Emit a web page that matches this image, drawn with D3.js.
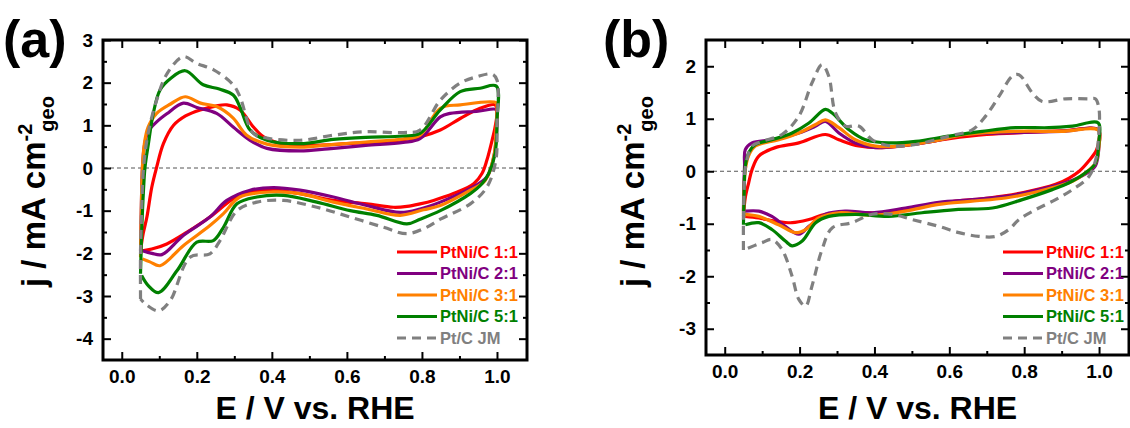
<!DOCTYPE html>
<html>
<head>
<meta charset="utf-8">
<script src="https://d3js.org/d3.v7.min.js"></script>
<style>
  body { margin: 0; background: #fff; }
  svg { display: block; font-family: "Liberation Sans", Arial, sans-serif; font-weight: bold; }
</style>
</head>
<body>
<svg id="chart" width="1130" height="428"></svg>
<script>
// legend / series
var seriesNames = ['PtNi/C 1:1', 'PtNi/C 2:1', 'PtNi/C 3:1', 'PtNi/C 5:1', 'Pt/C JM']
var seriesColors = ['#ff0000', '#800080', '#ff8000', '#008000', '#808080']

// ticks
var xMajor = [0, 0.2, 0.4, 0.6, 0.8, 1.0]
var xMinor = [0.1, 0.3, 0.5, 0.7, 0.9]
var yMajorA = [-4, -3, -2, -1, 0, 1, 2, 3]
var yMinorA = [-3.5, -2.5, -1.5, -0.5, 0.5, 1.5, 2.5]
var yMajorB = [-3, -2, -1, 0, 1, 2]
var yMinorB = [-2.5, -1.5, -0.5, 0.5, 1.5]

// panel (a): [E, j], closed loop (anodic then cathodic)
var aRed = [[0.05,-1.94],[0.057,-1.54],[0.067,-1.15],[0.08,-0.45],[0.093,0.02],[0.111,0.57],[0.138,1.0],[0.17,1.22],[0.209,1.36],[0.25,1.45],[0.28,1.48],[0.315,1.36],[0.351,0.96],[0.378,0.73],[0.431,0.56],[0.5,0.53],[0.6,0.57],[0.7,0.62],[0.795,0.73],[0.849,0.89],[0.902,1.16],[0.955,1.4],[0.995,1.48],
  [1.0,1.3],[0.995,0.96],[0.987,0.65],[0.973,0.18],[0.96,-0.13],[0.938,-0.37],[0.884,-0.6],[0.831,-0.76],[0.795,-0.84],[0.76,-0.9],[0.724,-0.92],[0.653,-0.84],[0.564,-0.76],[0.475,-0.6],[0.404,-0.52],[0.342,-0.56],[0.298,-0.72],[0.235,-1.15],[0.173,-1.51],[0.12,-1.78],[0.08,-1.9],[0.055,-1.94]]
var aPurple = [[0.05,-1.94],[0.052,-1.0],[0.055,0.0],[0.06,0.5],[0.07,0.85],[0.093,1.08],[0.12,1.27],[0.164,1.52],[0.2,1.42],[0.253,1.28],[0.297,0.96],[0.342,0.65],[0.387,0.46],[0.475,0.4],[0.55,0.45],[0.65,0.53],[0.75,0.6],[0.795,0.69],[0.849,1.2],[0.875,1.28],[0.95,1.33],[0.998,1.37],
  [1.0,1.2],[0.997,0.6],[0.99,0.2],[0.973,-0.21],[0.929,-0.48],[0.849,-0.8],[0.795,-0.96],[0.742,-1.04],[0.653,-0.88],[0.564,-0.68],[0.475,-0.52],[0.404,-0.46],[0.342,-0.52],[0.28,-0.76],[0.235,-1.15],[0.164,-1.58],[0.107,-2.03],[0.08,-2.0],[0.055,-1.94]]
var aOrange = [[0.05,-2.09],[0.052,-1.0],[0.055,0.0],[0.06,0.55],[0.07,0.95],[0.093,1.28],[0.13,1.5],[0.169,1.67],[0.21,1.52],[0.253,1.44],[0.297,1.17],[0.333,0.77],[0.387,0.56],[0.475,0.49],[0.55,0.54],[0.65,0.61],[0.75,0.68],[0.795,0.77],[0.849,1.4],[0.902,1.48],[0.998,1.53],
  [1.0,1.44],[0.997,0.8],[0.993,0.34],[0.969,-0.29],[0.929,-0.52],[0.849,-0.88],[0.804,-0.98],[0.742,-1.11],[0.653,-0.96],[0.564,-0.8],[0.475,-0.6],[0.404,-0.56],[0.315,-0.68],[0.271,-1.07],[0.235,-1.35],[0.164,-1.82],[0.102,-2.29],[0.075,-2.2],[0.055,-2.13]]
var aGreen = [[0.05,-2.48],[0.053,-1.5],[0.058,-0.5],[0.062,0.02],[0.071,0.57],[0.084,1.28],[0.102,1.83],[0.13,2.1],[0.169,2.28],[0.217,1.95],[0.26,1.85],[0.297,1.71],[0.315,1.43],[0.342,0.89],[0.387,0.65],[0.475,0.57],[0.564,0.67],[0.65,0.72],[0.75,0.75],[0.795,0.81],[0.849,1.36],[0.902,1.79],[0.955,1.87],[0.998,1.92],
  [1.0,1.12],[0.995,0.34],[0.978,-0.13],[0.96,-0.37],[0.929,-0.6],[0.849,-1.0],[0.795,-1.2],[0.76,-1.31],[0.68,-1.11],[0.609,-1.0],[0.52,-0.8],[0.431,-0.64],[0.36,-0.68],[0.307,-0.84],[0.271,-1.39],[0.244,-1.7],[0.2,-1.74],[0.147,-2.41],[0.098,-2.92],[0.07,-2.75],[0.053,-2.52]]
var aGray = [[0.05,-3.07],[0.05,-2.0],[0.053,-1.0],[0.058,0.0],[0.07,0.8],[0.093,1.59],[0.12,2.2],[0.164,2.61],[0.2,2.45],[0.245,2.3],[0.297,1.95],[0.315,1.67],[0.351,0.81],[0.387,0.7],[0.475,0.65],[0.564,0.77],[0.65,0.85],[0.75,0.83],[0.795,0.89],[0.849,1.59],[0.902,1.99],[0.947,2.14],[0.987,2.2],[1.0,2.06],
  [1.0,1.0],[0.997,0.18],[0.973,-0.45],[0.929,-0.84],[0.849,-1.2],[0.81,-1.4],[0.76,-1.54],[0.698,-1.39],[0.609,-1.15],[0.52,-0.92],[0.431,-0.76],[0.36,-0.8],[0.307,-1.0],[0.262,-1.7],[0.235,-2.01],[0.182,-2.09],[0.129,-3.11],[0.098,-3.35],[0.065,-3.2],[0.05,-3.07]]

// panel (b)
var bRed = [[0.05,-0.86],[0.055,-0.5],[0.064,-0.22],[0.073,0.03],[0.091,0.29],[0.135,0.45],[0.198,0.54],[0.269,0.7],[0.305,0.6],[0.358,0.48],[0.42,0.45],[0.51,0.52],[0.6,0.62],[0.7,0.7],[0.8,0.74],[0.9,0.77],[0.998,0.79],
  [1.0,0.6],[0.993,0.4],[0.973,0.2],[0.947,0.0],[0.92,-0.13],[0.884,-0.25],[0.795,-0.41],[0.706,-0.51],[0.617,-0.57],[0.527,-0.67],[0.438,-0.79],[0.349,-0.79],[0.269,-0.82],[0.225,-0.92],[0.18,-0.98],[0.135,-0.95],[0.091,-0.89],[0.055,-0.86]]
var bPurple = [[0.05,-0.76],[0.051,-0.3],[0.053,0.1],[0.055,0.41],[0.073,0.54],[0.126,0.6],[0.198,0.73],[0.243,0.86],[0.269,0.95],[0.305,0.73],[0.349,0.54],[0.403,0.45],[0.465,0.48],[0.554,0.57],[0.644,0.7],[0.75,0.73],[0.9,0.76],[0.998,0.79],
  [1.0,0.5],[0.99,0.1],[0.964,-0.05],[0.929,-0.17],[0.84,-0.35],[0.75,-0.48],[0.661,-0.54],[0.572,-0.59],[0.483,-0.7],[0.394,-0.79],[0.323,-0.76],[0.269,-0.82],[0.225,-1.05],[0.198,-1.2],[0.162,-1.05],[0.126,-0.86],[0.091,-0.76],[0.055,-0.76]]
var bOrange = [[0.05,-0.82],[0.052,-0.3],[0.055,0.03],[0.064,0.3],[0.082,0.48],[0.144,0.6],[0.198,0.73],[0.243,0.89],[0.269,0.98],[0.305,0.83],[0.349,0.6],[0.403,0.48],[0.465,0.48],[0.554,0.57],[0.644,0.7],[0.777,0.76],[0.9,0.76],[0.998,0.78],
  [1.0,0.5],[0.99,0.15],[0.96,-0.05],[0.929,-0.19],[0.84,-0.38],[0.75,-0.51],[0.661,-0.57],[0.572,-0.63],[0.483,-0.76],[0.394,-0.84],[0.305,-0.79],[0.251,-0.89],[0.216,-1.11],[0.189,-1.17],[0.144,-1.02],[0.091,-0.86],[0.055,-0.82]]
var bGreen = [[0.05,-1.02],[0.052,-0.4],[0.055,0.1],[0.064,0.35],[0.082,0.51],[0.126,0.6],[0.18,0.73],[0.225,0.92],[0.269,1.18],[0.287,1.11],[0.332,0.79],[0.376,0.6],[0.438,0.54],[0.51,0.57],[0.599,0.67],[0.688,0.76],[0.777,0.83],[0.866,0.83],[0.929,0.86],[0.998,0.92],
  [1.0,0.6],[0.99,0.15],[0.964,-0.03],[0.92,-0.22],[0.875,-0.35],[0.795,-0.54],[0.715,-0.7],[0.617,-0.73],[0.527,-0.79],[0.438,-0.86],[0.349,-0.82],[0.278,-0.86],[0.243,-0.98],[0.207,-1.33],[0.18,-1.42],[0.162,-1.33],[0.126,-1.11],[0.091,-0.98],[0.055,-1.02]]
var bGray = [[0.05,-1.5],[0.05,-0.9],[0.052,-0.3],[0.056,0.1],[0.073,0.48],[0.1,0.57],[0.153,0.7],[0.198,1.05],[0.233,1.68],[0.26,2.03],[0.278,1.81],[0.296,1.11],[0.323,0.86],[0.358,0.86],[0.394,0.6],[0.447,0.48],[0.51,0.51],[0.599,0.67],[0.661,0.79],[0.697,1.05],[0.733,1.43],[0.768,1.81],[0.786,1.84],[0.822,1.49],[0.848,1.33],[0.911,1.38],[0.973,1.38],[0.99,1.38],
  [1.0,1.18],[0.998,0.6],[0.991,0.22],[0.973,-0.1],[0.929,-0.35],[0.884,-0.54],[0.831,-0.73],[0.786,-0.92],[0.759,-1.11],[0.724,-1.24],[0.679,-1.24],[0.626,-1.17],[0.572,-1.05],[0.501,-0.92],[0.447,-0.82],[0.394,-0.82],[0.34,-0.98],[0.287,-1.08],[0.26,-1.49],[0.233,-2.19],[0.216,-2.57],[0.198,-2.44],[0.18,-2.0],[0.153,-1.49],[0.126,-1.3],[0.1,-1.36],[0.053,-1.49]]

var svg = d3.select('#chart')

function panel(opt) {
  var g = svg.append('g')
  var x = d3.scaleLinear().domain([-0.05, 1.08]).range(opt.xr)
  var y = d3.scaleLinear().domain(opt.yd).range(opt.yr)
  var left = opt.xr[0], right = opt.xr[1], bottom = opt.yr[0], top = opt.yr[1]

  // zero line
  g.append('line')
    .attr('x1', left).attr('x2', right)
    .attr('y1', y(0)).attr('y2', y(0))
    .attr('stroke', '#555').attr('stroke-width', 1).attr('stroke-dasharray', '4,3')

  // curves
  var line = d3.line().x(d => x(d[0])).y(d => y(d[1])).curve(d3.curveCatmullRom.alpha(0.5))
  opt.data.forEach(function(s, i) {
    g.append('path')
      .attr('d', line(s))
      .attr('fill', 'none')
      .attr('stroke', seriesColors[i])
      .attr('stroke-width', 3.2)
      .attr('stroke-linejoin', 'round')
      .attr('stroke-dasharray', i == 4 ? '9,6' : null)
  })

  // axes
  var ax = []
  ax.push(g.append('g').attr('transform', 'translate(0,' + bottom + ')')
    .call(d3.axisBottom(x).tickValues(xMajor).tickSize(-8).tickPadding(10).tickFormat(d3.format('.1f'))))
  ax.push(g.append('g').attr('transform', 'translate(0,' + bottom + ')')
    .call(d3.axisBottom(x).tickValues(xMinor).tickSize(-4).tickFormat('')))
  ax.push(g.append('g').attr('transform', 'translate(0,' + top + ')')
    .call(d3.axisTop(x).tickValues(xMajor).tickSize(-8).tickFormat('')))
  ax.push(g.append('g').attr('transform', 'translate(0,' + top + ')')
    .call(d3.axisTop(x).tickValues(xMinor).tickSize(-4).tickFormat('')))
  ax.push(g.append('g').attr('transform', 'translate(' + left + ',0)')
    .call(d3.axisLeft(y).tickValues(opt.yMajor).tickSize(-8).tickPadding(10).tickFormat(d => String(d))))
  ax.push(g.append('g').attr('transform', 'translate(' + left + ',0)')
    .call(d3.axisLeft(y).tickValues(opt.yMinor).tickSize(-4).tickFormat('')))
  ax.push(g.append('g').attr('transform', 'translate(' + right + ',0)')
    .call(d3.axisRight(y).tickValues(opt.yMajor).tickSize(-8).tickFormat('')))
  ax.push(g.append('g').attr('transform', 'translate(' + right + ',0)')
    .call(d3.axisRight(y).tickValues(opt.yMinor).tickSize(-4).tickFormat('')))
  ax.forEach(function(a) {
    a.select('.domain').remove()
    a.selectAll('line').attr('stroke', '#000').attr('stroke-width', 2)
    a.selectAll('text').attr('fill', '#000').style('font-size', '19px').style('font-family', '"Liberation Sans", Arial, sans-serif').style('font-weight', 'bold')
  })

  g.append('rect')
    .attr('x', left).attr('y', top)
    .attr('width', right - left).attr('height', bottom - top)
    .attr('fill', 'none').attr('stroke', '#000').attr('stroke-width', 3)

  // legend
  var leg = g.append('g')
  seriesNames.forEach(function(n, i) {
    var ly = 252 + i * 21.5
    leg.append('line')
      .attr('x1', opt.legX).attr('x2', opt.legX + 40)
      .attr('y1', ly).attr('y2', ly)
      .attr('stroke', seriesColors[i]).attr('stroke-width', 3)
      .attr('stroke-dasharray', i == 4 ? '9,6' : null)
    leg.append('text')
      .attr('x', opt.legX + 43).attr('y', ly)
      .attr('dy', '0.36em')
      .attr('fill', seriesColors[i])
      .style('font-size', '16.5px')
      .text(n)
  })

  // axis titles
  g.append('text')
    .attr('x', (left + right) / 2).attr('y', 419)
    .attr('text-anchor', 'middle')
    .style('font-size', '32px')
    .text('E / V vs. RHE')

  var yt = g.append('text')
    .attr('transform', 'translate(' + opt.ylabX + ',287) rotate(-90)')
    .style('font-size', '33px')
  yt.append('tspan').text('j / mA cm')
  yt.append('tspan').attr('dy', -13).style('font-size', '20px').text('-2')
  yt.append('tspan').attr('dx', -8).attr('dy', 22).style('font-size', '20px').text('geo')

  g.append('text')
    .attr('x', opt.labX).attr('y', 57)
    .style('font-size', '52px')
    .text(opt.label)
}

panel({ xr: [103, 527], yd: [-4.5, 3], yr: [360, 40], yMajor: yMajorA, yMinor: yMinorA,
  data: [aRed, aPurple, aOrange, aGreen, aGray], legX: 397, ylabX: 45, labX: 3, label: '(a)' })
panel({ xr: [706, 1129], yd: [-3.5, 2.5], yr: [355, 40], yMajor: yMajorB, yMinor: yMinorB,
  data: [bRed, bPurple, bOrange, bGreen, bGray], legX: 1003, ylabX: 644, labX: 603, label: '(b)' })
</script>
</body>
</html>
